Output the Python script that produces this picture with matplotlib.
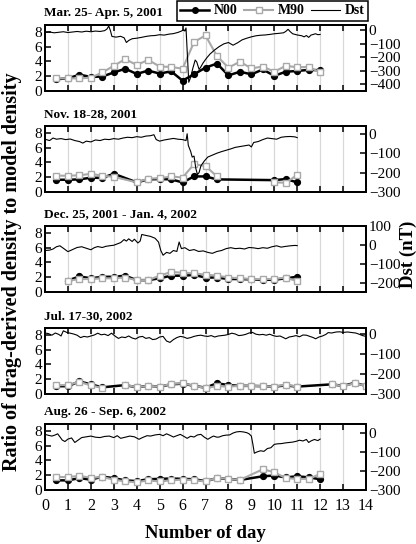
import numpy as np
import matplotlib
matplotlib.use('Agg')
import matplotlib.pyplot as plt
from matplotlib.lines import Line2D

plt.rcParams['font.family'] = ['Liberation Serif', 'DejaVu Serif']

titles = ['Mar. 25- Apr. 5, 2001', 'Nov. 18-28, 2001', 'Dec. 25, 2001 - Jan. 4, 2002',
          'Jul. 17-30, 2002', 'Aug. 26 - Sep. 6, 2002']

# panel 1
d1 = [0.5, 1.0, 1.5, 2.0, 2.5, 3.0, 3.5, 4.0, 4.5, 5.0, 5.5, 6.0, 6.5, 7.0, 7.5, 8.0, 8.5, 9.0, 9.5, 10.0, 10.5, 11.0, 11.5, 12.0]
n1 = [1.6, 1.7, 2.2, 1.9, 1.95, 2.5, 3.0, 2.3, 2.75, 2.35, 2.65, 1.4, 2.25, 3.15, 3.7, 2.1, 2.6, 2.25, 2.9, 2.05, 2.6, 2.7, 2.85, 2.8]
m1 = [1.7, 1.7, 1.7, 1.8, 2.5, 3.4, 4.3, 3.5, 4.2, 3.3, 3.25, 3.0, 6.6, 7.5, 4.7, 3.15, 3.95, 3.05, 3.3, 2.6, 3.4, 3.2, 3.25, 2.5]
t1 = [0.0, 0.2, 0.4, 0.6, 0.8, 1.0, 1.2, 1.4, 1.6, 1.8, 2.0, 2.2, 2.4, 2.6, 2.7, 2.78, 2.85, 2.92, 3.1, 3.3, 3.45,
      3.55, 3.65, 3.8, 4.0, 4.2, 4.4, 4.6, 4.8, 5.0, 5.2, 5.4, 5.6, 5.8, 5.95, 6.05, 6.1, 6.15, 6.2, 6.27, 6.35,
      6.45, 6.55, 6.62, 6.72, 6.8, 6.9, 7.05, 7.2, 7.4, 7.6, 7.8, 8.0, 8.2, 8.4, 8.6, 8.8, 9.0, 9.2, 9.4, 9.6,
      9.8, 10.0, 10.2, 10.4, 10.5, 10.6, 10.7, 10.8, 11.0, 11.2, 11.3, 11.4, 11.5, 11.6, 11.8, 11.9, 12.0]
s1 = [-15, -12, -18, -14, -10, -16, -12, -8, -12, -6, -10, -5, -8, -2, 10, 32, 0, -45, -50, -44, -55,
      -90, -75, -62, -58, -52, -45, -40, -38, -32, -35, -28, -24, -15, -5, 5, -5, 18, -150, -385, -350,
      -280, -220, -235, -290, -270, -240, -205, -175, -145, -120, -100, -90, -110, -92, -70, -58, -48, -40, -36, -34,
      -30, -25, -22, -18, -8, 8, -10, -25, -34, -40, -48, -38, -52, -35, -25, -32, -30]

# panel 2 (NaN = day missing from the M90 curve)
d2 = [0.5, 1.0, 1.5, 2.0, 2.5, 3.0, 4.0, 4.5, 5.0, 5.5, 6.0, 6.5, 7.0, 7.5, 10.0, 10.5, 11.0]
n2 = [1.65, 1.65, 1.7, 1.93, 1.9, 2.46, 1.3, 1.7, 1.75, 1.7, 1.3, 2.1, 2.1, 1.7, 1.6, 1.75, 1.3]
d2m = [0.5, 1.0, 1.5, 2.0, 2.5, 3.0, 4.0, 4.5, 5.0, 5.5, 6.0, 6.5, 7.0, 7.5, 8.0, 10.0, 10.5, 11.0]
m2 = [2.2, 2.2, 2.25, 2.45, 2.2, 2.05, 1.3, 1.8, 1.85, 2.1, 1.95, 3.75, 3.5, 2.1, np.nan, 1.3, 1.25, 2.3]
t2 = [0.0, 0.2, 0.35, 0.5, 0.7, 0.9, 1.1, 1.3, 1.5, 1.65, 1.8, 2.0, 2.2, 2.4, 2.6, 2.8, 3.0, 3.2, 3.4, 3.6,
      3.8, 4.0, 4.2, 4.4, 4.6, 4.75, 4.85, 5.0, 5.2, 5.4, 5.6, 5.8, 6.0, 6.15, 6.2, 6.25, 6.35, 6.42, 6.5,
      6.58, 6.65, 6.72, 6.8, 6.95, 7.1, 7.3, 7.5, 7.7, 7.9, 8.1, 8.3, 8.5, 8.7, 8.9, 9.0, 9.1, 9.3, 9.5,
      9.7, 9.9, 10.1, 10.3, 10.5, 10.7, 10.9, 11.0]
s2 = [-28, -35, -22, -28, -25, -30, -27, -35, -40, -48, -38, -42, -32, -35, -28, -30, -25, -28, -22, -18,
      -20, -15, -18, -12, -10, -5, -30, -38, -32, -28, -24, -28, -30, -35, 0, -60, -90, -120, -115,
      -180, -210, -200, -165, -140, -120, -110, -100, -92, -85, -78, -70, -66, -62, -58, -68, -45, -40, -30,
      -22, -25, -28, -18, -15, -14, -16, -20]

# panel 3
d3 = [1.0, 1.5, 2.0, 2.5, 3.0, 3.5, 4.0, 4.5, 5.0, 5.5, 6.0, 6.5, 7.0, 7.5, 8.0, 8.5, 9.0, 9.5, 10.0, 10.5, 11.0]
n3 = [1.55, 2.1, 1.85, 2.05, 2.05, 2.2, 1.6, 1.6, 1.85, 2.2, 2.2, 2.3, 1.95, 1.95, 1.75, 1.75, 1.7, 1.65, 1.65, 1.85, 2.05]
m3 = [1.5, 1.75, 1.75, 1.85, 1.85, 1.95, 1.6, 1.6, 2.2, 2.7, 2.6, 2.5, 2.35, 2.2, 1.95, 1.85, 1.75, 1.75, 1.75, 1.95, 1.45]
t3 = [0.0, 0.2, 0.35, 0.5, 0.65, 0.8, 1.0, 1.2, 1.4, 1.6, 1.8, 2.0, 2.15, 2.3, 2.5, 2.65, 2.8, 3.0, 3.15,
      3.3, 3.45, 3.55, 3.65, 3.8, 3.9, 4.05, 4.15, 4.22, 4.4, 4.6, 4.8, 4.95, 5.05, 5.15, 5.3, 5.45, 5.6,
      5.75, 5.85, 5.95, 6.1, 6.3, 6.5, 6.7, 6.9, 7.1, 7.3, 7.5, 7.7, 7.9, 8.1, 8.3, 8.5, 8.7, 8.9, 9.1,
      9.3, 9.5, 9.7, 9.9, 10.1, 10.3, 10.5, 10.7, 10.9, 11.0]
s3 = [-30, -28, -22, -10, -5, -18, -36, -25, -14, -10, -18, -26, -15, -9, -14, -8, -5, -2, 5,
      12, 28, 20, 32, 18, 30, 10, 20, 55, 50, 45, 35, 15, -30, -55, -40, -45, -30,
      -35, 15, -20, -15, -30, -25, -35, -32, -40, -45, -35, -30, -20, -15, -20, -18, -22, -14, -16,
      -20, -15, -18, -10, -5, -12, -8, -5, -3, -4]

# panel 4
d4 = [0.5, 1.0, 1.5, 2.0, 2.5, 3.5, 4.0, 4.5, 5.0, 5.5, 6.0, 6.5, 7.0, 7.5, 8.0, 8.5, 9.0, 9.5, 10.0, 10.5, 11.0, 12.5, 13.0, 13.5, 14.0]
n4 = [1.05, 1.05, 1.7, 1.3, 0.9, 1.2, 0.9, 1.1, 1.0, 1.3, 1.4, 1.1, 0.85, 1.45, 1.2, 1.1, 1.1, 1.05, 1.0, 1.15, 1.0, 1.3, 1.1, 1.5, 1.1]
d4m = [0.5, 1.0, 1.5, 2.0, 2.5, 3.0, 3.5, 4.0, 4.5, 5.0, 5.5, 6.0, 6.5, 7.0, 7.5, 8.0, 8.5, 9.0, 9.5, 10.0, 10.5, 11.0, 12.0, 12.5, 13.0, 13.5, 14.0]
m4 = [1.2, 1.2, 1.65, 1.15, 0.82, np.nan, 1.25, 0.9, 1.1, 1.0, 1.35, 1.45, 1.1, 0.82, 1.05, 1.0, 1.1, 1.1, 1.05, 1.0, 1.25, 1.0, np.nan, 1.35, 1.05, 1.45, 1.1]
t4 = [0.0, 0.15, 0.3, 0.45, 0.6, 0.7, 0.8, 0.95, 1.1, 1.25, 1.4, 1.55, 1.7, 1.85, 2.0, 2.15, 2.3, 2.45,
      2.6, 2.75, 2.9, 3.05, 3.2, 3.35, 3.5, 3.65, 3.8, 3.95, 4.1, 4.25, 4.4, 4.55, 4.7, 4.85, 5.0, 5.15,
      5.3, 5.45, 5.6, 5.75, 5.9, 6.05, 6.2, 6.35, 6.5, 6.65, 6.8, 6.95, 7.1, 7.25, 7.4, 7.55, 7.7, 7.85,
      8.0, 8.15, 8.3, 8.45, 8.6, 8.75, 8.9, 9.05, 9.2, 9.35, 9.5, 9.65, 9.8, 9.95, 10.1, 10.25, 10.4, 10.5,
      10.65, 10.8, 10.95, 11.1, 11.25, 11.4, 11.55, 11.7, 11.8, 11.95, 12.1, 12.25, 12.35, 12.5, 12.7, 12.85,
      13.0, 13.2, 13.4, 13.55, 13.7, 13.85, 14.0]
s4 = [5, 2, -6, 5, -2, -10, 16, 8, 4, 0, -6, -18, -12, -15, -10, -5, 4, -4,
      -1, -8, 4, -10, -22, -15, -18, -10, -20, -25, -15, -12, -22, -18, -28, -25, -15, -12,
      -35, -42, -28, -18, -12, -15, -22, -18, -12, -8, -6, -10, -12, -8, -15, -10, -8, -6,
      -2, 4, 0, -8, -6, -2, 5, 8, -1, -4, -2, -6, -1, -8, -12, -10, -18, -24,
      -15, -12, -8, -14, -5, -6, -12, -18, -24, -15, -10, -2, 7, 5, 10, 11,
      8, 10, 7, 5, -1, -8, -12]

# panel 5
d5 = [0.5, 1.0, 1.5, 2.0, 2.5, 3.0, 3.5, 4.0, 4.5, 5.0, 5.5, 6.0, 6.5, 7.0, 7.5, 8.0, 8.5, 9.5, 10.0, 10.5, 11.0, 11.5, 12.0]
n5 = [1.3, 1.3, 1.6, 1.4, 1.8, 1.6, 1.3, 1.2, 1.45, 1.5, 1.55, 1.5, 1.45, 1.2, 1.6, 1.5, 1.35, 1.85, 1.95, 1.7, 1.85, 1.7, 1.45]
m5 = [1.75, 1.75, 1.9, 1.65, 1.75, 1.4, 1.15, 1.05, 1.3, 1.15, 1.3, 1.4, 1.35, 1.15, 1.65, 1.5, 1.35, 2.8, 2.4, 1.6, 1.5, 1.5, 2.15]
t5 = [0.0, 0.15, 0.3, 0.45, 0.55, 0.65, 0.75, 0.87, 1.0, 1.16, 1.3, 1.45, 1.6, 1.8, 2.0, 2.2, 2.4, 2.6,
      2.8, 3.0, 3.15, 3.3, 3.5, 3.7, 3.9, 4.1, 4.25, 4.45, 4.6, 4.8, 5.0, 5.15, 5.3, 5.45, 5.6, 5.75,
      5.9, 6.05, 6.2, 6.35, 6.5, 6.65, 6.8, 6.95, 7.1, 7.25, 7.35, 7.5, 7.6, 7.75, 7.9, 8.05, 8.2, 8.35,
      8.5, 8.65, 8.8, 8.9, 9.0, 9.07, 9.13, 9.25, 9.4, 9.55, 9.7, 9.85, 10.0, 10.15, 10.3, 10.5, 10.65,
      10.8, 10.95, 11.1, 11.25, 11.4, 11.5, 11.6, 11.75, 11.9, 12.0]
s5 = [-5, -10, -14, -8, -2, -18, -35, -43, -30, -24, -48, -35, -22, -18, -14, -20, -22, -16,
      -14, -22, -12, -26, -20, -14, -18, -31, -22, -12, -14, -8, -5, -12, -2, -10, -19, -12,
      -5, -15, -26, -15, -19, -8, -5, -20, -31, -20, -14, -20, -19, -12, -9, -8, 2, 8,
      10, 8, 4, -2, -14, -60, -105, -98, -92, -95, -80, -76, -58, -55, -54, -50, -48,
      -46, -42, -36, -40, -32, -48, -40, -32, -38, -30]

panels = [
    (d1, n1, d1, m1, t1, s1, (-450, 40), [-400, -300, -200, -100, 0]),
    (d2, n2, d2m, m2, t2, s2, (-300, 40), [-300, -200, -100, 0]),
    (d3, n3, d3, m3, t3, s3, (-250, 100), [-200, -100, 0, 100]),
    (d4, n4, d4m, m4, t4, s4, (-300, 30), [-300, -200, -100, 0]),
    (d5, n5, d5, m5, t5, s5, (-300, 50), [-300, -200, -100, 0]),
]

W, H = 416, 544
fig = plt.figure(figsize=(W / 100, H / 100), dpi=100)
tops = [25, 126, 226, 328, 424]
ph = 66
gray = '#a9a9a9'

for i, (dn, nv, dm, mv, tt, ss, dlim, dticks) in enumerate(panels):
    ax = fig.add_axes([45 / W, 1 - (tops[i] + ph) / H, 321 / W, ph / H])
    ax.set_xlim(0, 14)
    ax.set_ylim(0, 8.9)
    for x in range(1, 14):
        ax.axvline(x, color='#d8d8d8', lw=0.9, zorder=0)
    ax.plot(dn, nv, '-o', color='black', lw=1.8, ms=4.2, zorder=3)
    ax.plot(dm, mv, '-s', color=gray, lw=1.5, ms=4.5, mfc='white', mec=gray, mew=1.0, zorder=4)
    ax.set_yticks([0, 2, 4, 6, 8])
    ax.set_xticks(range(0, 15))
    ax.tick_params(axis='both', direction='in', length=4, width=1.1, labelsize=11, pad=2)
    ax.tick_params(axis='x', top=True, labelsize=11.5, pad=6)
    if i < 4:
        ax.set_xticklabels([])
    for sp in ax.spines.values():
        sp.set_linewidth(1.4)
    ax.annotate(titles[i], xy=(0, 1), xycoords='axes fraction', xytext=(-1, 4),
                textcoords='offset points', ha='left', va='bottom', fontsize=9.5, fontweight='bold')

    ax2 = ax.twinx()
    ax2.plot(tt, ss, color='black', lw=0.8)
    ax2.set_ylim(*dlim)
    ax2.set_yticks(dticks)
    ax2.tick_params(axis='y', direction='in', length=4, width=1.1, labelsize=11, pad=2)
    for sp in ax2.spines.values():
        sp.set_linewidth(1.4)
    if i == 4:
        ax.set_xlabel('Number of day', fontsize=13.5, fontweight='bold', labelpad=8)

fig.text(0.03, 1 - 272 / H, 'Ratio of drag-derived density to model density', rotation=90,
         ha='center', va='center', fontsize=14.5, fontweight='bold')
fig.text(0.982, 1 - 254 / H, 'Dst (nT)', rotation=90, ha='center', va='center',
         fontsize=13.5, fontweight='bold')

handles = [
    Line2D([], [], color='black', lw=1.8, marker='o', ms=4.0),
    Line2D([], [], color=gray, lw=1.5, marker='s', ms=4.2, mfc='white', mec=gray),
    Line2D([], [], color='black', lw=0.8),
]
leg = fig.legend(handles, ['N00', 'M90', 'Dst'], loc='upper right', bbox_to_anchor=(368 / W, 1 - 1 / H),
                 ncol=3, frameon=True, fancybox=False, edgecolor='black', framealpha=1,
                 prop={'weight': 'bold', 'size': 10}, handlelength=2.1, handletextpad=0.3,
                 columnspacing=0.5, borderpad=0.25, borderaxespad=0)
leg.get_frame().set_linewidth(1.1)

fig.savefig('out.png', dpi=100)
